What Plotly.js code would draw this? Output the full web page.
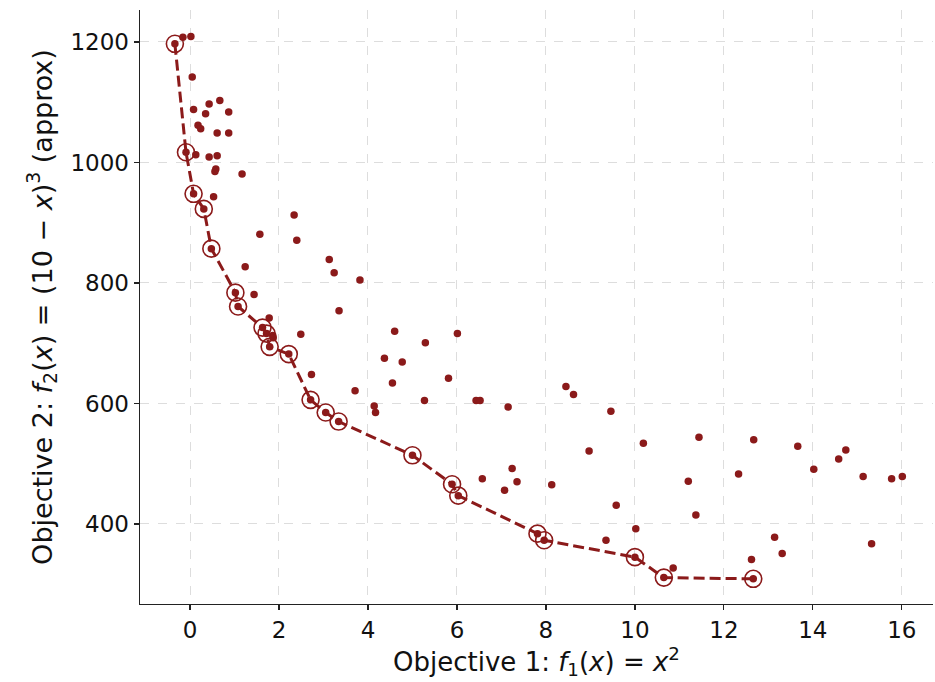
<!DOCTYPE html>
<html>
<head>
<meta charset="utf-8">
<script src="https://cdn.plot.ly/plotly-3.0.1.min.js"></script>
<style>
  html, body { margin: 0; padding: 0; background: #ffffff; }
  #chart { width: 935px; height: 682px; }
</style>
</head>
<body>
<div id="chart"></div>
<script>
// Dominated candidate solutions (objective 1, objective 2)
const otherF1 = [-0.16, 0.02, 0.05, 0.08, 0.43, 0.67, 0.35, 0.87, 0.18, 0.24,
  0.61, 0.87, 0.13, 0.43, 0.61, 0.58, 0.56, 1.17, 0.53, 2.34,
  1.57, 2.40, 3.13, 3.24, 1.24, 1.44, 3.35, 1.78, 3.82, 1.86,
  1.87, 2.49, 2.73, 4.60, 6.01, 5.29, 4.37, 4.77, 4.55, 5.81,
  3.71, 4.14, 4.17, 5.27, 6.43, 6.52, 7.15, 8.45, 8.62, 9.46,
  10.19, 11.44, 8.97, 7.24, 7.35, 6.57, 7.07, 8.13, 9.58, 11.20,
  11.37, 10.02, 9.35, 10.86, 12.67, 13.66, 14.74, 14.58, 14.02, 12.33,
  15.13, 15.77, 16.01, 13.14, 13.31, 15.32, 12.62];
const otherF2 = [1208, 1209, 1142, 1088, 1097, 1103, 1081, 1084, 1062, 1056,
  1049, 1049, 1013, 1009, 1011, 989, 985, 981, 943, 913,
  881, 871, 839, 817, 827, 781, 754, 742, 805, 713,
  709, 715, 648, 720, 716, 701, 675, 669, 634, 642,
  621, 596, 585, 605, 605, 605, 594, 628, 615, 587,
  534, 544, 521, 492, 470, 475, 456, 465, 431, 471,
  415, 392, 373, 327, 540, 529, 523, 508, 491, 483,
  479, 475, 479, 378, 351, 367, 341];

// Non-dominated (Pareto front) solutions, sorted by objective 1
const frontF1 = [-0.34, -0.09, 0.08, 0.31, 0.48, 1.02, 1.08, 1.63, 1.72, 1.79,
  2.22, 2.71, 3.05, 3.34, 5.00, 5.89, 6.03, 7.81, 7.96, 10.00,
  10.65, 12.66];
const frontF2 = [1197, 1017, 948, 923, 857, 784, 761, 726, 716, 694,
  682, 606, 585, 570, 514, 466, 447, 384, 373, 345,
  311, 309];

const xTicks = [0, 2, 4, 6, 8, 10, 12, 14, 16];
const yTicks = [400, 600, 800, 1000, 1200];

const RED = '#8b1a1a';

const traces = [
  {
    x: frontF1, y: frontF2, type: 'scatter', mode: 'lines',
    line: { color: RED, width: 3, dash: '11px,5px' },
    hoverinfo: 'skip', showlegend: false
  },
  {
    x: otherF1.concat(frontF1), y: otherF2.concat(frontF2),
    type: 'scatter', mode: 'markers',
    marker: { color: RED, size: 7.5, line: { width: 0 } },
    showlegend: false
  },
  {
    x: frontF1, y: frontF2, type: 'scatter', mode: 'markers',
    marker: { symbol: 'circle-open', color: RED, size: 17, line: { color: RED, width: 1.6 } },
    showlegend: false
  }
];

const axisCommon = {
  showline: true, linecolor: '#222', linewidth: 1.4, mirror: false,
  ticks: 'outside', ticklen: 5, tickwidth: 1.2, tickcolor: '#222',
  showgrid: true, gridcolor: '#dddddd', gridwidth: 1, griddash: 'dash',
  zeroline: false,
  tickfont: { family: 'DejaVu Sans, sans-serif', size: 23, color: '#111' }
};

const layout = {
  width: 935, height: 682,
  margin: { l: 140, r: 2, t: 10, b: 78 },
  paper_bgcolor: '#ffffff', plot_bgcolor: '#ffffff',
  font: { family: 'DejaVu Sans, sans-serif', color: '#111' },
  xaxis: Object.assign({}, axisCommon, {
    range: [-1.124, 16.70], tickvals: xTicks,
    title: { text: 'Objective 1: <i>f</i><sub>1</sub>(<i>x</i>) = <i>x</i><sup>2</sup>',
             font: { size: 26, color: '#111' }, standoff: 8 }
  }),
  yaxis: Object.assign({}, axisCommon, {
    range: [267.2, 1253.1], tickvals: yTicks,
    title: { text: 'Objective 2: <i>f</i><sub>2</sub>(<i>x</i>) = (10 − <i>x</i>)<sup>3</sup> (approx)',
             font: { size: 27, color: '#111' }, standoff: 10 }
  })
};

Plotly.newPlot('chart', traces, layout, { displayModeBar: false, staticPlot: true });
</script>
</body>
</html>
